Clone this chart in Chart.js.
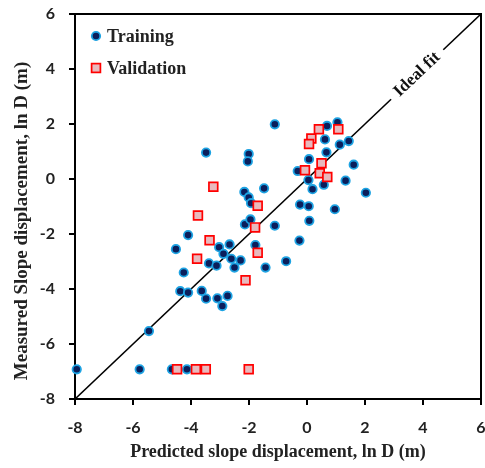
<!DOCTYPE html>
<html>
<head>
<meta charset="utf-8">
<script src="https://cdn.jsdelivr.net/npm/chart.js@4.4.1/dist/chart.umd.min.js"></script>
<style>
  html, body { margin: 0; padding: 0; background: #ffffff; }
  #wrap { width: 485px; height: 468px; }
</style>
</head>
<body>
<div id="wrap"><canvas id="c" width="485" height="468"></canvas></div>
<script>
// ---- Data ----
const trainX = [-3.48, -2.01, -2.04, -1.48, -2.16, -2.01, -1.93, -2.14, -1.95, -1.11,
                -4.10, -3.03, -2.67, -2.88, -1.78, -2.61, -2.29, -3.38, -3.12, -2.50,
                -1.43, -4.25, -4.52, -4.37, -4.10, -3.63, -3.48, -3.09, -2.74, -2.92,
                -5.45, -7.94, -5.77, -4.66, -4.14,
                -1.11, 1.05, 0.69, 0.62, 1.44, 1.13, 0.67, 0.07, 1.61, -0.32,
                0.05, 1.33, 0.58, 0.19, 2.03, -0.24, 0.06, 0.96, 0.08, -0.26, -0.72];
const trainY = [0.96, 0.91, 0.64, -0.34, -0.47, -0.67, -0.88, -1.65, -1.47, -1.70,
                -2.04, -2.48, -2.38, -2.72, -2.40, -2.90, -2.96, -3.07, -3.15, -3.22,
                -3.22, -3.40, -2.55, -4.08, -4.13, -4.07, -4.35, -4.34, -4.25, -4.62,
                -5.53, -6.92, -6.92, -6.92, -6.92,
                1.99, 2.06, 1.93, 1.44, 1.38, 1.25, 0.97, 0.72, 0.52, 0.29,
                -0.04, -0.06, -0.21, -0.37, -0.50, -0.93, -0.99, -1.10, -1.52, -2.24, -2.99];
const validX = [-3.23, -1.70, -3.76, -1.79, -3.36, -1.70, -3.79, -2.12,
                -4.48, -3.83, -3.49, -2.01,
                0.41, 1.08, 0.15, 0.07, 0.50, -0.07, 0.44, 0.70];
const validY = [-0.28, -0.97, -1.33, -1.76, -2.23, -2.68, -2.90, -3.68,
                -6.92, -6.92, -6.92, -6.92,
                1.81, 1.81, 1.47, 1.27, 0.57, 0.32, 0.21, 0.07];
const fitLow = [-8, 2.9];     // ideal fit line, lower segment (x = y)
const fitHigh = [4.7, 6];     // ideal fit line, upper segment (x = y)
const fitLabelAt = 3.8;       // where the "Ideal fit" label sits on the line
const tickValues = [-8, -6, -4, -2, 0, 2, 4, 6];
const seriesNames = ['Training', 'Validation'];
const xTitle = 'Predicted slope displacement, ln D (m)';
const yTitle = 'Measured Slope displacement, ln D (m)';

// ---- Styles ----
const trainFill = '#0b1f5c', trainEdge = '#1da3e3';
const validFill = '#e8b9bd', validEdge = '#ff0000';
const serif = '"Liberation Serif", "Times New Roman", serif';
const sans = 'Lato, "Open Sans", sans-serif';

const pts = (xs, ys) => xs.map((x, i) => ({ x: x, y: ys[i] }));
const diag = v => v.map(a => ({ x: a, y: a }));

const decor = {
  id: 'decor',
  afterDraw(chart) {
    const { ctx, chartArea: ca, scales } = chart;
    const xs = scales.x, ys = scales.y;
    ctx.save();
    // frame top & right
    ctx.strokeStyle = '#000';
    ctx.lineWidth = 2;
    ctx.beginPath();
    ctx.moveTo(ca.left, ca.top);
    ctx.lineTo(ca.right, ca.top);
    ctx.lineTo(ca.right, ca.bottom);
    ctx.stroke();

    // legend
    const lx = 96;
    const rows = [36, 68];
    ctx.beginPath();
    ctx.arc(lx, rows[0], 4.2, 0, Math.PI * 2);
    ctx.fillStyle = trainFill; ctx.fill();
    ctx.lineWidth = 1.8; ctx.strokeStyle = trainEdge; ctx.stroke();
    ctx.fillStyle = validFill;
    ctx.fillRect(lx - 4.4, rows[1] - 4.4, 8.8, 8.8);
    ctx.lineWidth = 1.7; ctx.strokeStyle = validEdge;
    ctx.strokeRect(lx - 4.4, rows[1] - 4.4, 8.8, 8.8);
    ctx.fillStyle = '#222';
    ctx.font = 'bold 18px ' + serif;
    ctx.textAlign = 'left';
    ctx.textBaseline = 'middle';
    ctx.fillText(seriesNames[0], 107, rows[0] + 1);
    ctx.fillText(seriesNames[1], 107, rows[1] + 1);

    // "Ideal fit" label along the diagonal
    const px = xs.getPixelForValue(fitLabelAt), py = ys.getPixelForValue(fitLabelAt);
    const ang = Math.atan2(ys.getPixelForValue(6) - ys.getPixelForValue(-8),
                           xs.getPixelForValue(6) - xs.getPixelForValue(-8));
    ctx.translate(px, py);
    ctx.rotate(ang);
    ctx.font = 'bold 17px ' + serif;
    ctx.textAlign = 'center';
    ctx.textBaseline = 'middle';
    ctx.fillStyle = '#111';
    ctx.fillText('Ideal fit', 0, 0);
    ctx.restore();

    // y axis title
    ctx.save();
    ctx.translate(22, 221);
    ctx.rotate(-Math.PI / 2);
    ctx.font = 'bold 19px ' + serif;
    ctx.textAlign = 'center';
    ctx.textBaseline = 'middle';
    ctx.fillStyle = '#222';
    ctx.fillText(yTitle, 0, 0);
    ctx.restore();
  }
};

new Chart(document.getElementById('c'), {
  type: 'scatter',
  data: {
    datasets: [
      { label: seriesNames[0], data: pts(trainX, trainY), order: 1, clip: false,
        pointStyle: 'circle', pointRadius: 4.2, pointHoverRadius: 4.2,
        backgroundColor: trainFill, borderColor: trainEdge, borderWidth: 1.8 },
      { label: seriesNames[1], data: pts(validX, validY), order: 0, clip: false,
        pointStyle: 'rect', pointRadius: 6.2, pointHoverRadius: 6.2,
        backgroundColor: validFill, borderColor: validEdge, borderWidth: 1.7 },
      { label: 'fit1', data: diag(fitLow), order: 2, showLine: true, pointRadius: 0,
        borderColor: '#000', borderWidth: 1.6, fill: false },
      { label: 'fit2', data: diag(fitHigh), order: 2, showLine: true, pointRadius: 0,
        borderColor: '#000', borderWidth: 1.6, fill: false }
    ]
  },
  options: {
    responsive: false,
    animation: false,
    devicePixelRatio: 1,
    layout: { autoPadding: false, padding: { top: 14, right: 4, left: 0, bottom: 0 } },
    plugins: { legend: { display: false }, tooltip: { enabled: false } },
    events: [],
    scales: {
      x: {
        type: 'linear', min: -8, max: 6,
        afterBuildTicks: s => { s.ticks = tickValues.map(v => ({ value: v })); },
        afterFit: s => { s.height = 69; s.paddingLeft = 0; s.paddingRight = 0; },
        border: { display: true, color: '#000', width: 2 },
        grid: { display: true, drawOnChartArea: false, drawTicks: true, tickLength: 6, color: '#000', lineWidth: 2 },
        ticks: { padding: 13, color: '#222', font: { family: sans, size: 16, weight: 'bold' }, maxRotation: 0 },
        title: { display: true, text: xTitle, color: '#222', padding: { top: 0, bottom: 5 },
                 font: { family: serif, size: 18, weight: 'bold' } }
      },
      y: {
        type: 'linear', min: -8, max: 6,
        afterBuildTicks: s => { s.ticks = tickValues.map(v => ({ value: v })); },
        afterFit: s => { s.width = 75; s.paddingTop = 0; s.paddingBottom = 0; },
        border: { display: true, color: '#000', width: 2 },
        grid: { display: true, drawOnChartArea: false, drawTicks: true, tickLength: 6, color: '#000', lineWidth: 2 },
        ticks: { padding: 14, color: '#222', font: { family: sans, size: 16, weight: 'bold' } },
        title: { display: false }
      }
    }
  },
  plugins: [decor]
});
</script>
</body>
</html>
